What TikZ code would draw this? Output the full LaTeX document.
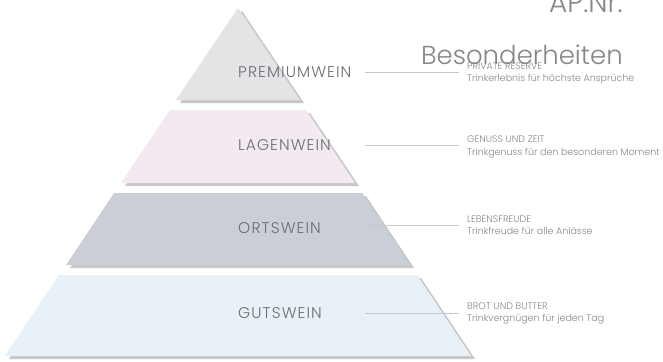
\documentclass[tikz,border=0pt]{standalone}
\usepackage{fontspec}
\setmainfont{Poppins}[UprightFont={* Light}]
\usetikzlibrary{shadows}
\definecolor{premiumgray}{RGB}{227, 228, 230}
\definecolor{lagenrose}{RGB}{242, 233, 241}
\definecolor{ortsslate}{RGB}{202, 206, 214}
\definecolor{gutsblue}{RGB}{232, 240, 248}
\definecolor{labelgray}{RGB}{108, 109, 116}
\definecolor{notegray}{RGB}{135, 135, 138}
\definecolor{rulegray}{RGB}{200, 200, 200}

\begin{document}
\begin{tikzpicture}[x=1pt, y=-1pt,
    tier/.style={drop shadow={shadow xshift=4pt, shadow yshift=-3pt, opacity=0.3, fill=black!70}},
    tierlabel/.style={anchor=west, inner sep=0pt, text=labelgray, font=\fontsize{15.5}{17}\selectfont\addfontfeatures{LetterSpace=7}},
    note/.style={anchor=west, inner sep=0pt, align=left, text=notegray, font=\fontsize{9.5}{12.5}\selectfont},
    headline/.style={anchor=base east, inner sep=0pt, text=notegray, font=\fontsize{26}{30}\selectfont},
    rule/.style={rulegray, line width=0.8pt}]
            % Frame to fix the page size:
            \fill[white] (0, 0) rectangle (663, 361);
            \useasboundingbox (0, 0) rectangle (663, 361);
            % Header
            \node[headline, font=\fontsize{28}{30}\selectfont] (apnr) at (623,  13) {AP.Nr.};
            % Tiers of the pyramid
            \fill[premiumgray, tier] (238,   8) -- (300, 100) -- (176, 100) -- cycle;
            \fill[lagenrose,   tier] (170, 110) -- (306, 110) -- (355, 183) -- (121, 183) -- cycle;
            \fill[ortsslate,   tier] (114, 193) -- (362, 193) -- (410, 265) -- ( 66, 265) -- cycle;
            \fill[gutsblue,    tier] ( 59, 275) -- (417, 275) -- (471, 356) -- (  5, 356) -- cycle;
            % Tier names
            \node[tierlabel] (premium) at (238,  72) {PREMIUMWEIN};
            \node[tierlabel] (lagen)   at (238, 145) {LAGENWEIN};
            \node[tierlabel] (orts)    at (238, 228) {ORTSWEIN};
            \node[tierlabel] (guts)    at (238, 313) {GUTSWEIN};
            % Notes on the right
            \node[headline] (besonderheiten) at (623,  64) {Besonderheiten};
            \node[note] (premiumnote) at (467,  73.5) {PRIVATE RESERVE\\Trinkerlebnis für höchste Ansprüche};
            \node[note] (lagennote)   at (467, 147)   {GENUSS UND ZEIT\\Trinkgenuss für den besonderen Moment};
            \node[note] (ortsnote)    at (467, 225)   {LEBENSFREUDE\\Trinkfreude für alle Anlässe};
            \node[note] (gutsnote)    at (467, 313.5) {BROT UND BUTTER\\Trinkvergnügen für jeden Tag};
            % Rules from tier to note
            \coordinate (premiumstart) at (365,  72);
            \coordinate (lagenstart)   at (365, 145);
            \coordinate (ortsstart)    at (365, 225);
            \coordinate (gutsstart)    at (365, 313);
            \draw[rule] (premiumstart) -- ([xshift=-8pt]premiumnote.west |- premiumstart);
            \draw[rule] (lagenstart)   -- ([xshift=-8pt]lagennote.west   |- lagenstart);
            \draw[rule] (ortsstart)    -- ([xshift=-8pt]ortsnote.west    |- ortsstart);
            \draw[rule] (gutsstart)    -- ([xshift=-8pt]gutsnote.west    |- gutsstart);
        \end{tikzpicture}
\end{document}
